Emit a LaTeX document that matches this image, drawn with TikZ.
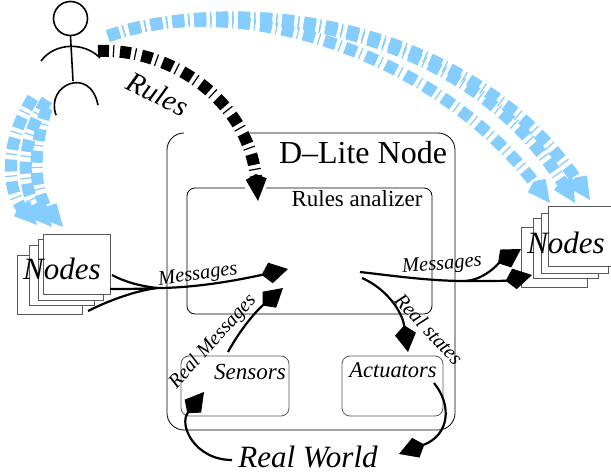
\documentclass[tikz,border=0pt]{standalone}
\usepackage{fontspec}
\setmainfont{Liberation Serif}
\usetikzlibrary{arrows.meta}

\begin{document}
\begin{tikzpicture}[x=1pt, y=-1pt,
    %Option for nice arrows
    >={Kite[length=27pt,width=21pt,inset=9pt]}, %
    inner sep=0pt,
    box/.style={line width=0.8pt,color=#1,rounded corners=8pt},
    sheet/.style={draw=black!65,fill=white,line width=0.9pt},
    person/.style={line width=1.6pt},
    flow/.style={line width=2.2pt,->},
    rulesflow/.style={line width=12pt,dash pattern=on 11pt off 4pt on 1.2pt off 5.8pt,
        -{Kite[length=27pt,width=21pt,inset=5pt]}},
    blueflow/.style={line width=12pt,color=skyblue,dash pattern=on 12pt off 4pt on 1.2pt off 4.8pt,
        -{Kite[length=27pt,width=22pt,inset=5pt]}},
    label/.style={font=\itshape\fontsize{#1}{#1}\selectfont},
    title/.style={font=\fontsize{#1}{#1}\selectfont},
]
    % Colors
    \definecolor{skyblue}{RGB}{133,204,255}

    \useasboundingbox (0,0) rectangle (611,473);

    % Blue rules going to the other nodes
    \draw[blueflow] (33,98) .. controls (5,140) and (5,190) .. (37,225);
    \draw[blueflow] (47,100) .. controls (20,140) and (20,190) .. (52,227);
    \draw[blueflow] (47,108) .. controls (35,140) and (30,190) .. (63,227);
    \draw[blueflow] (108,36) .. controls (240,-8) and (470,20) .. (590,200);
    \draw[blueflow] (108,36) .. controls (240,-8) and (465,24) .. (575,203);
    \draw[blueflow] (108,36) .. controls (230,-8) and (430,45) .. (550,203);

    % Person
    \draw[person] (70.5,18.5) circle (17);
    \draw[person] (70.5,36) -- (73,81);
    \draw[person] (41,61) .. controls (55,42) and (85,42) .. (100,58);
    \draw[person] (56,115) .. controls (45,85) and (90,65) .. (98,105);

    % D-Lite node, the top side is open
    \draw[box=black,rounded corners=17pt] (184,133) -- (167,133) -- (167,430) -- (455,430)
        -- (455,133) -- (250,133);
    \draw[box=black] (245,188) -- (187,188) -- (187,314) -- (432,314) -- (432,188) -- (266,188);
    \draw[box=black!65] (181,356) rectangle (289,416);
    \draw[box=black!65] (342,356) rectangle (443,416);

    % Nodes stacks
    \foreach \l/\t/\r/\b in {17/255/82/314, 29/245/94/305, 38/239/103/300, 43/234/110/294}
        \draw[sheet] (\l,\t) rectangle (\r,\b);
    \foreach \l/\t/\r/\b in {521/227/587/287, 533/218/598/278, 541/213/608/273, 548/206/615/266}
        \draw[sheet] (\l,\t) rectangle (\r,\b);

    % Rules
    \draw[rulesflow] (98,51) .. controls (170,48) and (250,100) .. (258,201);

    % Text
    \node[label=31] (leftnodes) at (62,269) {Nodes};
    \node[label=31] (rightnodes) at (566,243) {Nodes};
    \node[label=29, rotate=-26] (rules) at (158,94) {Rules};
    \node[title=32] (dlite) at (363,153) {D--Lite Node};
    \node[title=23] (analizer) at (357,199) {Rules analizer};
    \node[label=20.5, rotate=8] (inmessages) at (198,275) {Messages};
    \node[label=20.5, rotate=5] (outmessages) at (442,265) {Messages};
    \node[label=20, rotate=48] (realmessages) at (213,342) {Real Messages};
    \node[label=20.5, rotate=-47] (realstates) at (429,329) {Real states};
    \node[label=23] (sensors) at (250,372) {Sensors};
    \node[label=22.4] (actuators) at (393,370) {Actuators};
    \node[label=31] (world) at (308,457) {Real World};

    % Messages coming in
    \coordinate (inmerge) at (157,288);
    \coordinate (intip) at (288,269);
    \draw[flow] (112,275) .. controls (125,282) and (140,286) .. (inmerge) .. controls (190,288) and (230,282) .. (intip);
    \draw[line width=2.2pt] (110,289) .. controls (125,289) and (140,289) .. (inmerge);
    \draw[line width=2.2pt] (88,311) .. controls (110,300) and (135,291) .. (inmerge);

    % Messages going out
    \coordinate (outstart) at (360,272);
    \coordinate (outsplit) at (465,281);
    \draw[flow] (outstart) .. controls (395,276) and (430,281) .. (outsplit) .. controls (490,281) and (505,281) .. (532,275);
    \draw[flow] (outsplit) .. controls (485,280) and (500,262) .. (521,249);

    % Sensors and actuators
    \draw[flow] (228,352) .. controls (240,330) and (255,312) .. (283,288);
    \draw[flow] (362,278) .. controls (385,288) and (402,310) .. (408,352);
    \draw[flow] (434,383) .. controls (452,405) and (450,435) .. (399,454);
    \draw[flow] (232,460) .. controls (195,460) and (178,425) .. (204,392);
\end{tikzpicture}
\end{document}
